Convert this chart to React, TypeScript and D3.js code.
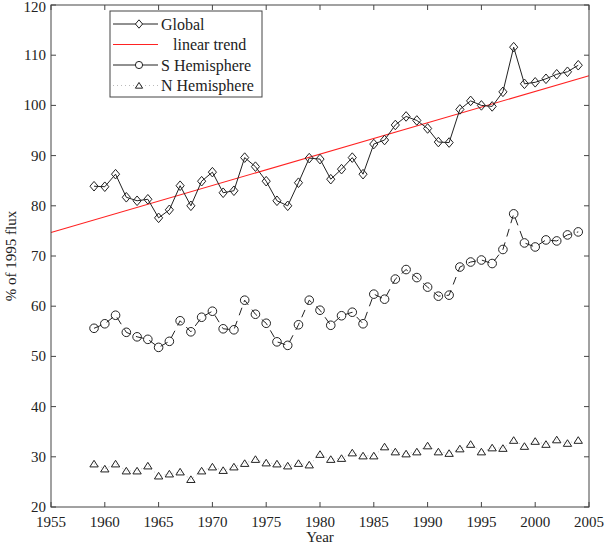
import React from "react";
import * as d3 from "d3";

const years = d3.range(1959, 2005);
const globalValues = [
  83.9, 83.8, 86.3, 81.7, 81.0, 81.3, 77.6, 79.2, 84.0, 80.0,
  84.9, 86.7, 82.6, 83.0, 89.6, 87.8, 84.9, 81.0, 80.0, 84.6,
  89.5, 89.3, 85.3, 87.3, 89.6, 86.3, 92.3, 93.1, 96.1, 97.8,
  97.0, 95.4, 92.7, 92.6, 99.2, 100.9, 100.0, 99.8, 102.7, 111.6,
  104.3, 104.6, 105.3, 106.2, 106.7, 108.0,
];
const southValues = [
  55.6, 56.5, 58.2, 54.8, 53.9, 53.4, 51.8, 53.0, 57.1, 54.9,
  57.8, 59.0, 55.5, 55.3, 61.2, 58.4, 56.6, 52.9, 52.2, 56.3,
  61.2, 59.2, 56.2, 58.1, 58.8, 56.5, 62.4, 61.4, 65.4, 67.3,
  65.7, 63.8, 62.0, 62.2, 67.8, 68.8, 69.2, 68.5, 71.3, 78.4,
  72.6, 71.8, 73.2, 73.0, 74.2, 74.8,
];
const northValues = [
  28.6, 27.6, 28.6, 27.2, 27.2, 28.2, 26.2, 26.6, 27.0, 25.5,
  27.2, 28.0, 27.3, 28.0, 28.7, 29.5, 28.8, 28.6, 28.2, 28.7,
  28.4, 30.5, 29.5, 29.7, 30.8, 30.2, 30.2, 32.0, 31.0, 30.6,
  31.0, 32.2, 31.0, 30.7, 31.6, 32.5, 31.0, 31.8, 31.7, 33.3,
  32.1, 33.1, 32.5, 33.4, 32.7, 33.3,
];
const trendYears = [1955, 2005];
const trendValues = [74.7, 105.9];
const xTicks = d3.range(1955, 2006, 5);
const yTicks = d3.range(20, 121, 10);
const legendLabels = ["Global", "   linear trend", "S Hemisphere", "N Hemisphere"];

const W = 605;
const H = 545;
const left = 51;
const right = 589;
const top = 5;
const bottom = 507;
const FONT = "'Liberation Serif', 'Times New Roman', serif";
const INK = "#222";

function diamond(cx: number, cy: number, r: number) {
  return `M${cx},${cy - r}L${cx + r * 0.85},${cy}L${cx},${cy + r}L${cx - r * 0.85},${cy}Z`;
}
function triangle(cx: number, cy: number, s: number) {
  return `M${cx},${cy - s * 0.8}L${cx + s * 0.95},${cy + s * 0.7}L${cx - s * 0.95},${cy + s * 0.7}Z`;
}

export default function App() {
  const x = d3.scaleLinear().domain([1955, 2005]).range([left, right]);
  const y = d3.scaleLinear().domain([20, 120]).range([bottom, top]);
  const line = d3
    .line<[number, number]>()
    .x((d) => x(d[0]))
    .y((d) => y(d[1]));
  const g = years.map((yr, i) => [yr, globalValues[i]] as [number, number]);
  const s = years.map((yr, i) => [yr, southValues[i]] as [number, number]);
  const n = years.map((yr, i) => [yr, northValues[i]] as [number, number]);
  const t = trendYears.map((yr, i) => [yr, trendValues[i]] as [number, number]);

  const lx0 = 113;
  const lx1 = 158;
  const lmx = 139;
  const ly = [24, 44.5, 65, 85.5];

  return (
    <svg
      width={W}
      height={H}
      style={{ position: "absolute", left: 0, top: 0, background: "#fff" }}
      fontFamily={FONT}
    >
      <rect x={0} y={0} width={W} height={H} fill="#fff" />
      <path d={line(t) || ""} fill="none" stroke="#f22" strokeWidth={1.1} />
      <path d={line(n) || ""} fill="none" stroke="#aaa" strokeWidth={0.8} strokeDasharray="1,3" />
      <path d={line(s) || ""} fill="none" stroke={INK} strokeWidth={1} strokeDasharray="8,6" />
      <path d={line(g) || ""} fill="none" stroke={INK} strokeWidth={1} />
      {g.map((d, i) => (
        <path key={"g" + i} d={diamond(x(d[0]), y(d[1]), 4.8)} fill="none" stroke={INK} strokeWidth={1} />
      ))}
      {s.map((d, i) => (
        <circle key={"s" + i} cx={x(d[0])} cy={y(d[1])} r={4.3} fill="none" stroke={INK} strokeWidth={1} />
      ))}
      {n.map((d, i) => (
        <path key={"n" + i} d={triangle(x(d[0]), y(d[1]), 4.4)} fill="none" stroke={INK} strokeWidth={1} />
      ))}
      <rect x={left} y={top} width={right - left} height={bottom - top} fill="none" stroke="#444" strokeWidth={1} />
      {xTicks.map((v) => (
        <g key={"xt" + v}>
          <line x1={x(v)} x2={x(v)} y1={bottom} y2={bottom - 5} stroke="#444" />
          <line x1={x(v)} x2={x(v)} y1={top} y2={top + 5} stroke="#444" />
          <text x={x(v)} y={527} textAnchor="middle" fontSize={15} fill={INK}>
            {v}
          </text>
        </g>
      ))}
      {yTicks.map((v) => (
        <g key={"yt" + v}>
          <line x1={left} x2={left + 5} y1={y(v)} y2={y(v)} stroke="#444" />
          <line x1={right} x2={right - 5} y1={y(v)} y2={y(v)} stroke="#444" />
          <text x={46} y={Math.max(y(v) + 5, 12)} textAnchor="end" fontSize={15} fill={INK}>
            {v}
          </text>
        </g>
      ))}
      <text x={320} y={542} textAnchor="middle" fontSize={15} fill={INK}>
        Year
      </text>
      <text
        transform={`translate(16,${(top + bottom) / 2}) rotate(-90)`}
        textAnchor="middle"
        fontSize={15}
        fill={INK}
      >
        % of 1995 flux
      </text>
      <rect x={110} y={11} width={152} height={86} fill="#fff" stroke="#444" strokeWidth={1} />
      <line x1={lx0} x2={lx1} y1={ly[0]} y2={ly[0]} stroke={INK} />
      <path d={diamond(lmx, ly[0], 4.2)} fill="#fff" stroke={INK} />
      <line x1={lx0} x2={lx1} y1={ly[1]} y2={ly[1]} stroke="#f22" strokeWidth={1.1} />
      <line x1={lx0} x2={lx1} y1={ly[2]} y2={ly[2]} stroke={INK} />
      <circle cx={lmx} cy={ly[2]} r={3.6} fill="#fff" stroke={INK} />
      <line x1={lx0} x2={lx1} y1={ly[3]} y2={ly[3]} stroke="#aaa" strokeWidth={0.8} strokeDasharray="1,3" />
      <path d={triangle(lmx, ly[3], 3.8)} fill="#fff" stroke={INK} />
      {legendLabels.map((lab, i) => (
        <text key={lab} x={161} y={ly[i] + 5.5} fontSize={16} fill={INK} style={{ whiteSpace: "pre" }}>
          {lab}
        </text>
      ))}
    </svg>
  );
}
